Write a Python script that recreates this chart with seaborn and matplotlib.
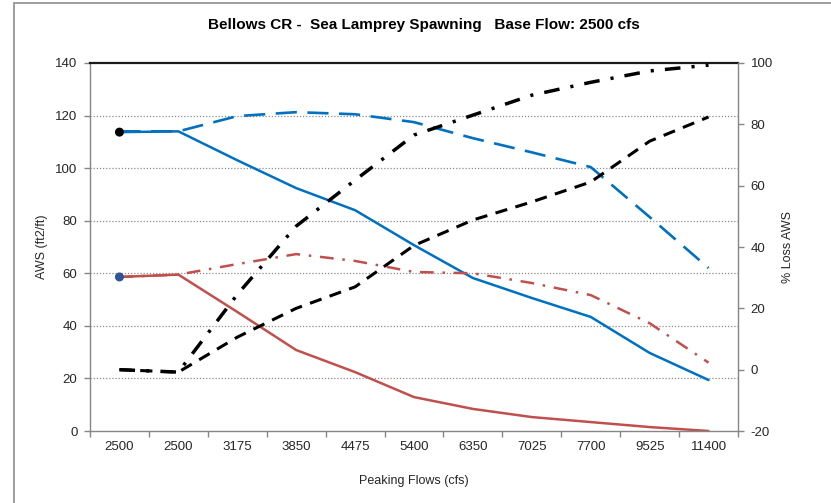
import matplotlib

matplotlib.use("Agg")

import matplotlib.pyplot as plt
import numpy as np
import pandas as pd
import seaborn as sns
from matplotlib.patches import Rectangle
from matplotlib.ticker import FixedLocator, MultipleLocator


FLOW_LABELS = ["2500", "2500", "3175", "3850", "4475", "5400", "6350", "7025", "7700", "9525", "11400"]

# AWS on the left axis (ft2/ft)
AWS_BLUE = [113.7, 114.0, 103.0, 92.4, 84.0, 70.7, 58.2, 50.6, 43.4, 29.7, 19.4]
AWS_BLUE_ALT = [114.0, 114.0, 119.8, 121.3, 120.5, 117.5, 111.4, 106.0, 100.4, 81.4, 62.0]
AWS_RED = [58.6, 59.5, 45.3, 30.8, 22.4, 12.9, 8.4, 5.3, 3.4, 1.5, 0.0]
AWS_RED_ALT = [58.6, 59.5, 63.5, 67.3, 64.7, 60.5, 60.0, 56.3, 51.7, 41.0, 26.0]

# % loss AWS on the right axis
LOSS_DASH = [0.0, -0.8, 10.6, 20.0, 27.0, 40.5, 48.8, 54.7, 61.2, 74.5, 82.4]
LOSS_DASHDOT = [0.0, -0.8, 24.5, 46.8, 61.8, 76.5, 83.0, 89.5, 93.7, 97.4, 99.3]

# base flow points
BASE_POS = [0, 0]
BASE_AWS = [113.7, 58.6]
BASE_COLORS = ["#000000", "#2f5597"]

BLUE = "#0070c0"
RED = "#c0504d"
GREY = "#868686"
TEXT = "#262626"
FONT = ["Liberation Sans", "DejaVu Sans"]


def _line(ax, values, color, width, style):
    frame = pd.DataFrame({"pos": np.arange(len(values)), "value": values})
    sns.lineplot(
        data=frame,
        x="pos",
        y="value",
        ax=ax,
        color=color,
        linewidth=width,
        linestyle=style,
        sort=False,
        errorbar=None,
        legend=False,
    )


def main() -> None:
    sns.set_theme(style="white")
    plt.rcParams["font.family"] = FONT
    plt.rcParams["axes.unicode_minus"] = False

    fig = plt.figure(figsize=(8.31, 5.03), dpi=100)
    ax = fig.add_axes([90 / 831, 72 / 503, 648 / 831, 368 / 503])
    ax2 = ax.twinx()

    _line(ax, AWS_BLUE_ALT, BLUE, 1.9, (0, (8, 4)))
    _line(ax, AWS_BLUE, BLUE, 1.8, "-")
    _line(ax, AWS_RED_ALT, RED, 1.8, (0, (5.5, 3.5, 1, 3.5)))
    _line(ax, AWS_RED, RED, 1.8, "-")
    ax.scatter(BASE_POS, BASE_AWS, c=BASE_COLORS, s=30, zorder=5)

    _line(ax2, LOSS_DASH, "black", 2.2, (0, (4, 2.8)))
    _line(ax2, LOSS_DASHDOT, "black", 2.5, (0, (4.5, 3.2, 0.9, 3.2)))

    n = len(FLOW_LABELS)
    ax.set_xlim(-0.5, n - 0.5)
    ax.set_ylim(0, 140)
    ax2.set_ylim(-20, 100)
    ax.yaxis.set_major_locator(MultipleLocator(20))
    ax2.yaxis.set_major_locator(MultipleLocator(20))
    ax.set_xticks(range(n))
    ax.set_xticklabels(FLOW_LABELS)
    ax.xaxis.set_minor_locator(FixedLocator(np.arange(-0.5, n, 1.0)))

    for y in range(20, 140, 20):
        ax.axhline(y, color="#8c8c8c", linestyle=(0, (1, 1.5)), linewidth=0.9, zorder=0)

    for spine in ("left", "bottom"):
        ax.spines[spine].set_color(GREY)
        ax.spines[spine].set_linewidth(1.0)
    ax.spines["top"].set_color("#1a1a1a")
    ax.spines["top"].set_linewidth(1.6)
    ax.spines["right"].set_visible(False)
    for spine in ("left", "bottom", "top"):
        ax2.spines[spine].set_visible(False)
    ax2.spines["right"].set_color(GREY)
    ax2.spines["right"].set_linewidth(1.0)

    ax.tick_params(axis="x", which="major", length=0, pad=7, labelsize=9.5, labelcolor=TEXT)
    ax.tick_params(axis="x", which="minor", bottom=True, length=4, width=1, color=GREY)
    ax.tick_params(axis="y", left=True, length=4, width=1, color=GREY, pad=5,
                   labelsize=9.5, labelcolor=TEXT)
    ax2.tick_params(axis="y", right=True, length=4, width=1, color=GREY, pad=5,
                    labelsize=9.5, labelcolor=TEXT)

    ax.set_xlabel("Peaking Flows (cfs)", fontsize=9, color=TEXT, labelpad=16)
    ax.set_ylabel("AWS (ft2/ft)", fontsize=9, color=TEXT, labelpad=5)
    ax2.set_ylabel("% Loss AWS", fontsize=9, color=TEXT, labelpad=7)

    fig.text(424 / 831, 1 - 25 / 503, "Bellows CR -  Sea Lamprey Spawning   Base Flow: 2500 cfs",
             ha="center", va="center", fontsize=11, fontweight="bold", color="black")

    fig.patches.append(Rectangle((14 / 831, -0.1), 1.2, 1 - 3 / 503 + 0.1, transform=fig.transFigure,
                                 fill=False, edgecolor="#8c8c8c", linewidth=1.2))

    fig.savefig("out.png", dpi=100)
    plt.close(fig)


if __name__ == "__main__":
    main()
